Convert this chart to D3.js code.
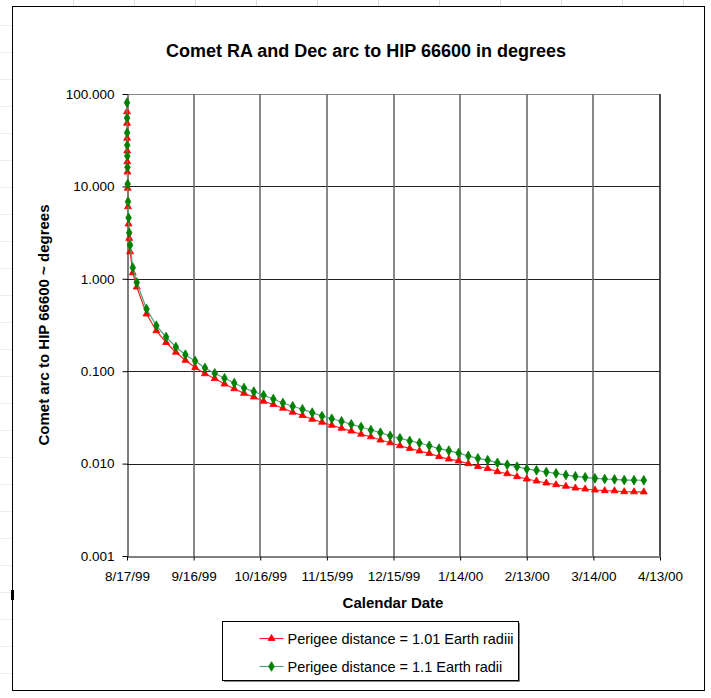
<!DOCTYPE html>
<html>
<head>
<meta charset="utf-8">
<script src="https://cdn.jsdelivr.net/npm/d3@7"></script>
<style>
  html, body { margin: 0; padding: 0; background: #fff; }
  svg { display: block; font-family: "Liberation Sans", Arial, sans-serif; }
</style>
</head>
<body>
<div id="container"></div>
<script>
const width = 711;
const height = 698;
const plotLeft = 127;
const plotRight = 660;
const plotTop = 94;
const plotBottom = 556;

// days after 8/17/99 for each computed point
const dayOffsets = [
  0, 0.03, 0.06, 0.1, 0.15, 0.2, 0.3, 0.45, 0.7, 1.0, 1.4, 2.6,
  4.4, 8.8, 13.2, 17.6, 22.0, 26.3, 30.7, 35.1, 39.5, 43.9,
  48.3, 52.7, 57.1, 61.5, 65.9, 70.2, 74.6, 79.0, 83.4, 87.8,
  92.2, 96.6, 101.0, 105.4, 109.8, 114.1, 118.5, 122.9, 127.3, 131.7,
  136.1, 140.5, 144.9, 149.3, 153.7, 158.0, 162.4, 166.8, 171.2, 175.6,
  180.0, 184.4, 188.8, 193.2, 197.6, 201.9, 206.3, 210.7, 215.1, 219.5,
  223.9, 228.3, 232.7
];

// Perigee distance = 1.01 Earth radii
const arc101 = [
  64.3, 48.2, 33.2, 24.2, 18.5, 14.3, 9.54, 6.03, 3.92, 2.74, 1.96, 1.16,
  0.815, 0.416, 0.274, 0.2044, 0.1605, 0.1312, 0.1096, 0.0939, 0.0834, 0.0727,
  0.0646, 0.0576, 0.0526, 0.0473, 0.0436, 0.0397, 0.0360, 0.0332, 0.0302, 0.0280,
  0.0260, 0.0241, 0.0225, 0.0208, 0.0195, 0.0180, 0.0168, 0.0156, 0.0146, 0.0137,
  0.0129, 0.0119, 0.0112, 0.0107, 0.00997, 0.00930, 0.00885, 0.00818, 0.00777, 0.00722,
  0.00681, 0.00648, 0.00617, 0.00591, 0.00568, 0.00544, 0.00531, 0.00518, 0.00509, 0.00507,
  0.00496, 0.00495, 0.00494
];

// Perigee distance = 1.1 Earth radii
const arc11 = [
  80.5, 55.0, 38.1, 27.9, 21.3, 16.1, 10.6, 6.83, 4.58, 3.15, 2.32, 1.32,
  0.912, 0.471, 0.311, 0.2345, 0.1827, 0.1509, 0.1289, 0.1083, 0.0949, 0.0838,
  0.0745, 0.0658, 0.0601, 0.0550, 0.0500, 0.0453, 0.0417, 0.0387, 0.0356, 0.0327,
  0.0306, 0.0287, 0.0266, 0.0249, 0.0231, 0.0216, 0.0200, 0.0188, 0.0176, 0.0167,
  0.0156, 0.0145, 0.0138, 0.0130, 0.0121, 0.0114, 0.0109, 0.0102, 0.00973, 0.00926,
  0.00874, 0.00846, 0.00811, 0.00785, 0.00753, 0.00729, 0.00711, 0.00693, 0.00681, 0.00675,
  0.00664, 0.00662, 0.00660
];

const dateTicks = ["8/17/99", "9/16/99", "10/16/99", "11/15/99", "12/15/99", "1/14/00", "2/13/00", "3/14/00", "4/13/00"];
const valueTicks = [0.001, 0.01, 0.1, 1, 10, 100];

const seriesNames = ["Perigee distance = 1.01 Earth radiii", "Perigee distance = 1.1 Earth radii"];

const parseDate = d3.utcParse("%m/%d/%y");
const startDate = parseDate(dateTicks[0]);
const toDate = (days) => new Date(startDate.getTime() + days * 864e5);

const x = d3.scaleUtc()
  .domain([startDate, parseDate(dateTicks[dateTicks.length - 1])])
  .range([plotLeft, plotRight]);

const y = d3.scaleLog()
  .domain([0.001, 100])
  .range([plotBottom, plotTop]);

const svg = d3.create("svg")
  .attr("width", width)
  .attr("height", height);

svg.append("rect")
  .attr("width", width).attr("height", height)
  .attr("fill", "#fff");

// spreadsheet cell lines peeking around the chart
const cells = svg.append("g").attr("stroke", "#dcdcdc").attr("stroke-width", 1);
for (let cx = 73; cx < width; cx += 61) {
  cells.append("line").attr("x1", cx + 0.5).attr("x2", cx + 0.5).attr("y1", 0).attr("y2", 7);
}
for (let cy = 25; cy < height; cy += 27) {
  cells.append("line").attr("x1", 0).attr("x2", 12).attr("y1", cy + 0.5).attr("y2", cy + 0.5)
    .attr("stroke", "#ececec");
}

// chart area border
svg.append("rect")
  .attr("x", 12.5).attr("y", 6.5)
  .attr("width", 692).attr("height", 684)
  .attr("fill", "#fff")
  .attr("stroke", "#000")
  .attr("stroke-width", 1);
svg.append("rect")
  .attr("x", 11).attr("y", 590).attr("width", 3).attr("height", 10)
  .attr("fill", "#000");

// gridlines
svg.append("g")
  .selectAll("line")
  .data(valueTicks.slice(1))
  .join("line")
  .attr("x1", plotLeft).attr("x2", plotRight)
  .attr("y1", d => Math.round(y(d)) + 0.5)
  .attr("y2", d => Math.round(y(d)) + 0.5)
  .attr("stroke", d => d === 100 ? "#888" : "#222")
  .attr("stroke-width", 1);

svg.append("g")
  .selectAll("line")
  .data(dateTicks.slice(1))
  .join("line")
  .attr("x1", d => Math.round(x(parseDate(d))))
  .attr("x2", d => Math.round(x(parseDate(d))))
  .attr("y1", plotTop).attr("y2", plotBottom)
  .attr("stroke", d => d === dateTicks[dateTicks.length - 1] ? "#222" : "#6a6a6a")
  .attr("stroke-width", 1.6);

// axes
const xAxis = svg.append("g")
  .attr("transform", `translate(0,${plotBottom + 0.5})`)
  .call(d3.axisBottom(x)
    .tickValues(dateTicks.map(parseDate))
    .tickFormat((d, i) => dateTicks[i])
    .tickSizeInner(4)
    .tickSizeOuter(0)
    .tickPadding(11));

const yAxis = svg.append("g")
  .attr("transform", `translate(${plotLeft + 0.5},0)`)
  .call(d3.axisLeft(y)
    .tickValues(valueTicks)
    .tickFormat(d3.format(".3f"))
    .tickSizeInner(5)
    .tickSizeOuter(0)
    .tickPadding(8));

[xAxis, yAxis].forEach(g => {
  g.selectAll("path, line").attr("stroke", "#000");
  g.selectAll("text")
    .attr("fill", "#000")
    .style("font-size", "13.5px")
    .style("font-family", '"Liberation Sans", Arial, sans-serif');
});

// series
const points = (vals) => vals.map((v, i) => ({ t: toDate(dayOffsets[i]), v }));
const data101 = points(arc101);
const data11 = points(arc11);

const line = d3.line().x(d => x(d.t)).y(d => y(d.v));

const triangle = d3.symbol().type(d3.symbolTriangle).size(21);
const diamond = d3.symbol().type(d3.symbolDiamond).size(27);

const series = [
  { data: data101, lineColor: "#ff2020", markColor: "#ff0000", shape: triangle, name: seriesNames[0] },
  { data: data11, lineColor: "#4fa37a", markColor: "#008000", shape: diamond, name: seriesNames[1] }
];

series.forEach(s => {
  svg.append("path")
    .datum(s.data)
    .attr("fill", "none")
    .attr("stroke", s.lineColor)
    .attr("stroke-width", 1.2)
    .attr("d", line);

  svg.append("g")
    .selectAll("path")
    .data(s.data)
    .join("path")
    .attr("transform", d => `translate(${x(d.t)},${y(d.v)})`)
    .attr("d", s.shape())
    .attr("fill", s.markColor)
    .attr("stroke", s.markColor)
    .attr("stroke-width", 0.8);
});

// titles
svg.append("text")
  .attr("x", 366).attr("y", 57)
  .attr("text-anchor", "middle")
  .style("font-size", "18px")
  .style("font-weight", "bold")
  .text("Comet RA and Dec arc to HIP 66600 in degrees");

svg.append("text")
  .attr("x", 393).attr("y", 608)
  .attr("text-anchor", "middle")
  .style("font-size", "15px")
  .style("font-weight", "bold")
  .text("Calendar Date");

svg.append("text")
  .attr("transform", `translate(49,${(plotTop + plotBottom) / 2}) rotate(-90)`)
  .attr("text-anchor", "middle")
  .style("font-size", "15px")
  .style("font-weight", "bold")
  .text("Comet arc to HIP 66600 ~ degrees");

// legend
const legend = svg.append("g").attr("transform", "translate(222.5,621.5)");
legend.append("rect")
  .attr("x", 1.5).attr("y", 1.5).attr("width", 296).attr("height", 59)
  .attr("fill", "#888");
legend.append("rect")
  .attr("width", 296).attr("height", 59)
  .attr("fill", "#fff")
  .attr("stroke", "#000");

series.forEach((s, i) => {
  const row = legend.append("g").attr("transform", `translate(0,${17 + i * 28})`);
  row.append("line")
    .attr("x1", 37).attr("x2", 61)
    .attr("stroke", s.lineColor)
    .attr("stroke-width", 1.2);
  row.append("path")
    .attr("transform", "translate(49,0)")
    .attr("d", s.shape())
    .attr("fill", s.markColor)
    .attr("stroke", s.markColor)
    .attr("stroke-width", 0.8);
  row.append("text")
    .attr("x", 65).attr("y", 5.5)
    .style("font-size", "14.5px")
    .text(s.name);
});

container.append(svg.node());
</script>
</body>
</html>
